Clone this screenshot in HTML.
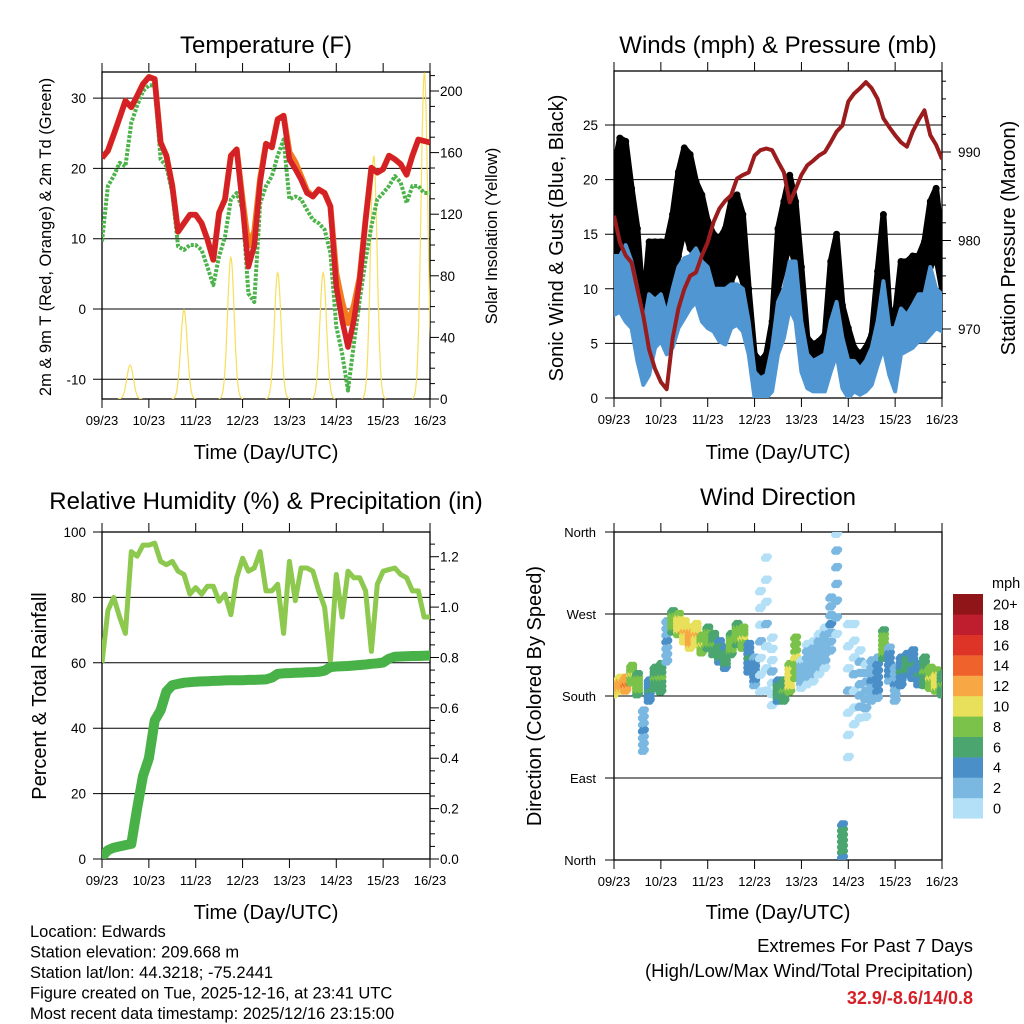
<!DOCTYPE html>
<html><head><meta charset="utf-8"><style>
html,body{margin:0;padding:0;background:#fff}
svg{display:block;font-family:"Liberation Sans",sans-serif}
</style></head><body>
<svg id="chart" width="1024" height="1024" viewBox="0 0 1024 1024" xmlns="http://www.w3.org/2000/svg">
<defs>
<clipPath id="cT"><rect x="102" y="72" width="328" height="327"/></clipPath>
<clipPath id="cW"><rect x="614" y="71" width="328" height="327"/></clipPath>
<clipPath id="cR"><rect x="102" y="532" width="328" height="327"/></clipPath>
<clipPath id="cD"><rect x="614" y="532" width="328" height="328"/></clipPath>
</defs>
<g id="root"></g>
</svg>
<script>
// ---------- data (1/8-day steps from 09/23 to 16/23) ----------
const dayLabels = ["09/23","10/23","11/23","12/23","13/23","14/23","15/23","16/23"];
const tempRed = [21.5,22.5,24.8,27.2,29.6,28.7,30.3,32,33,32.7,23.7,21.8,17.5,11,12.2,13.4,13.4,12.2,9.9,7,13.7,15.6,21.8,22.7,14.6,6,9,18,23.5,23,27,27.5,21.3,19.9,18.4,16.5,16,17,16.5,14.6,3.2,-1.6,-5.4,-1.6,4.1,12.7,20.1,19.4,19.9,21.8,21.3,20.6,19.1,21.8,24.1,23.9,23.7];
const tempOrange = [21.5,22.5,24.8,27.2,29.6,28.7,30.3,32,33,32.7,23.7,21.8,17.5,11,12.2,13.4,13.4,12.2,9.9,7,13.7,15.6,21.8,22.7,15.5,9,11,18.5,23.5,23,27,27.5,22.3,20.9,18.9,16.8,16,17,16.5,14.6,5,1,-2,0.5,4.5,12.7,20.1,19.4,19.9,21.8,21.3,20.6,19.1,21.8,24.1,23.9,23.7];
const dewGreen = [9.6,17.5,18.9,20.8,20.3,26.5,28.9,31,31.8,31.8,21.3,20.3,16.5,8.9,8.4,9.1,9.1,8.4,6,3.4,7.5,10.3,15.6,16.5,14.1,2.2,1,15,17.5,18.9,21.8,24.1,15.6,16,15.6,14.1,12.7,12.2,11.3,8,-2.5,-6.3,-11.6,-4.9,1.3,7,11.8,15.6,16.5,17.5,18.9,18,15.1,17.5,17.5,16.5,16.5];
const solarDay = [0.6,1.75,2.75,3.75,4.72,5.8,6.88];
const solarPeak = [22,58,92,82,82,158,212];
const sonicLo = [7.6,7.9,7,6.4,3.4,1.2,2.1,4.6,5.2,4,4.6,6.4,7.3,8.2,8.8,7,6.4,6.1,5.2,4.9,6.4,6.7,6.1,4,0,0,0,0.6,4,5.5,8.2,7,2.4,0.9,0.6,0.6,0.6,2.4,4,0.9,0,0.6,0.3,0.6,1.2,3,4.6,2.1,0.6,4,4.3,4.6,5.2,5.2,5.8,6.4,6.1];
const sonicHi = [13,13,14,12.5,10,6.4,9.5,9,9.5,7.6,10,12,12.8,13,13.7,12.5,12,10,10,10,10.4,10.4,10,7,2.4,1.8,2.1,4.6,8.8,10,12.5,12.5,7,4,3.4,3.7,4,7,8.8,5.5,3.4,3.4,2.7,3.4,4.6,7,10.7,6.4,6.4,8.2,7.6,8.5,9.5,9.5,12,10,9.5];
const gustLo = [12.5,14.3,13,11.6,7,4.6,8.2,8.8,7.6,7,10,13,15.5,13.7,13,12,10,9,9.5,8.8,10.7,12,10.7,5.5,1.5,1.2,1.5,2.7,10,12,14.3,12,6.4,2.4,2.1,2.1,2.7,7,8.8,4,2.1,2.1,1.8,2.1,3,7,10.7,4.6,4,7.6,7.6,8.2,8.2,9.5,12,13,10];
const gustHi = [21,23.8,23.5,19.2,15.5,8.2,14.3,14.3,14.3,14.3,16.8,20.7,22.9,22.3,19.8,18.6,16.2,15,14.6,15.5,18,18.6,16.8,10,4,3.4,4,7,15.5,18,20.4,18,12,5.5,4.9,5.2,5.8,12.5,15,8.5,6.4,4.6,4,4.6,5.8,11.6,16.8,8.2,7.6,12.5,12.5,13,13,14.3,18,19.2,14.3];
const pressure = [982.8,979.8,978.3,977.5,974.5,971.5,967.7,965.5,964,963.2,968.9,972.3,974.5,976,976.4,978.3,979.8,982.1,983.6,984.5,985.1,987,987.4,987.7,989.6,990.2,990.4,990.2,988.9,987.7,984.3,985.8,987.4,988.5,989,989.6,990,991.1,992.3,993,995.7,996.6,997.2,997.9,997.2,996,993.8,992.8,991.9,991.1,990.6,992.3,993.6,994.7,991.9,990.8,989.2];
const rhValues = [60,76,80,74,69,94,92.6,96,96,96.6,91,90,91,88,87,81,83,81,83.4,83.4,78.8,81,74.7,86,92,88,89,94,82,82,84,69,91,79,89,89,88,82,77,60.5,87,74,88,86,86,82,63.5,84,88,88.5,89,87,86,82,82,74,74];
const precip = [0.01,0.035,0.045,0.05,0.055,0.06,0.2,0.33,0.4,0.55,0.59,0.665,0.69,0.695,0.7,0.702,0.704,0.705,0.706,0.707,0.708,0.709,0.71,0.71,0.71,0.711,0.711,0.712,0.713,0.72,0.735,0.737,0.738,0.739,0.74,0.741,0.742,0.743,0.748,0.762,0.764,0.765,0.766,0.768,0.77,0.772,0.775,0.777,0.78,0.795,0.803,0.804,0.805,0.806,0.806,0.807,0.808];
const windDir = [188,192,192,203,192,141,185,199,199,239,261,258,250,243,247,236,243,236,228,221,236,247,243,221,206,239,258,206,185,185,199,221,203,214,217,225,232,258,302,20,185,203,192,185,196,199,236,214,192,206,214,214,203,206,199,196,192];
const dirSpread = [7,7,7,9,11,22,11,11,15,22,11,11,11,11,11,9,11,11,11,11,11,11,11,15,15,55,73,37,11,11,15,22,15,22,22,22,22,29,55,18,73,55,37,29,22,22,15,18,18,15,11,15,11,15,11,11,11];
const dirSpeed = [12,12,13,9,8,3,5,7,7,3,8,10,11,12,11,9,8,7,6,6,8,8,9,5,4,1,1,1,6,7,10,9,2,2,2,2,2,3,2,6,1,1,2,2,3,4,8,4,3,5,6,5,5,7,9,10,7];
const speedColors = ["#b3e0f7","#7ab8e2","#4a8fc7","#4aa66e","#7ac24a","#e8e05a","#f7a845","#f0622b","#dd3427","#be1e2d","#901518"];
const speedLabels = ["0","2","4","6","8","10","12","14","16","18","20+"];
const tempTicks = [-10,0,10,20,30];
const solarTicks = [0,40,80,120,160,200];
const windTicks = [0,5,10,15,20,25];
const presTicks = [970,980,990];
const rhTicks = [0,20,40,60,80,100];
const prTicks = [0,0.2,0.4,0.6,0.8,1.0,1.2];
const dirNames = ["North","East","South","West","North"];

// ---------- scales ----------
const NS="http://www.w3.org/2000/svg";
const root=document.getElementById('root');
const STEP=0.125;
const xL=d=>102+d*328/7, xRt=d=>614+d*328/7;
const yT=v=>309-v*7.03, yS=v=>399-v*1.54;
const yW=v=>398-v*10.92, yP=p=>152+(990-p)*8.85;
const yR=v=>859-v*3.27, yPr=v=>859-v*251.9;
const yD=v=>860-v*328/360;
function el(tag,attrs,parent,txt){const e=document.createElementNS(NS,tag);for(const k in attrs)e.setAttribute(k,attrs[k]);if(txt!==undefined)e.textContent=txt;(parent||root).appendChild(e);return e;}
function txt(x,y,s,size,anchor,parent,extra){const e=el('text',Object.assign({x:x,y:y,'font-size':size,'text-anchor':anchor||'middle',fill:'#000'},extra||{}),parent,s);return e;}
function pathFrom(arr,xf,yf){return arr.map((v,i)=>(i?'L':'M')+xf(i*STEP).toFixed(1)+' '+yf(v).toFixed(1)).join(' ');}
function band(lo,hi,xf,yf){let d=hi.map((v,i)=>(i?'L':'M')+xf(i*STEP).toFixed(1)+' '+yf(v).toFixed(1)).join(' ');for(let i=lo.length-1;i>=0;i--)d+=' L'+xf(i*STEP).toFixed(1)+' '+yf(lo[i]).toFixed(1);return d+'Z';}

function frame(x0,y0,w,h,name){
  const g=el('g',{});
  dayLabels.forEach((lab,i)=>{const x=x0+i*w/7;
    el('line',{x1:x,y1:y0-9,x2:x,y2:y0,stroke:'#000','stroke-width':1},g);
    el('line',{x1:x,y1:y0+h,x2:x,y2:y0+h+9,stroke:'#000','stroke-width':1},g);
    const t=txt(x,y0+h+26,lab,13,'middle',g);});
  el('rect',{x:x0,y:y0,width:w,height:h,fill:'none',stroke:'#000','stroke-width':1.3},g);
  return g;
}
function hgrid(g,y,x0,x1){el('line',{x1:x0-9,y1:y,x2:x1,y2:y,stroke:'#000','stroke-width':1},g);}

// ================= Temperature panel =================
(function(){
 const g=frame(102,72,328,327,'temperature');
 tempTicks.forEach(v=>{hgrid(g,yT(v),102,430);const t=txt(86,yT(v)+5,String(v),13.5,'end',g);});
 for(let v=0;v<=210;v+=10){const y=yS(v);if(y<72)continue;el('line',{x1:430,y1:y,x2:v%40===0?439:435,y2:y,stroke:'#000','stroke-width':1},g);}
 solarTicks.forEach(v=>{const t=txt(440,yS(v)+5,String(v),13.5,'start',g);});
 const p=el('g',{'clip-path':'url(#cT)'});
 solarDay.forEach((d,k)=>{let s='';for(let t=-0.26;t<=0.2601;t+=0.01){const v=solarPeak[k]*Math.exp(-Math.pow(t/0.1,2));s+=(s?'L':'M')+xL(d+t).toFixed(1)+' '+yS(v).toFixed(1)+' ';}
  const e=el('path',{d:s,fill:'none',stroke:'#f6df5c','stroke-width':1.2},p);});
 let e=el('path',{d:pathFrom(tempOrange,xL,yT),fill:'none',stroke:'#f47b20','stroke-width':6,'stroke-linejoin':'round'},p);
 
 e=el('path',{d:pathFrom(dewGreen,xL,yT),fill:'none',stroke:'#4bb34a','stroke-width':4,'stroke-dasharray':'3 1.5','stroke-linejoin':'round'},p);
 
 e=el('path',{d:pathFrom(tempRed,xL,yT),fill:'none',stroke:'#d42027','stroke-width':5.5,'stroke-linejoin':'round'},p);
 
 let t=txt(266,53,'Temperature (F)',24);
 t=txt(0,0,'2m & 9m T (Red, Orange) & 2m Td (Green)',16.5,'middle',null,{transform:'translate(51,237) rotate(-90)'});
 t=txt(0,0,'Solar Insolation (Yellow)',16.5,'middle',null,{transform:'translate(497,236) rotate(-90)'});
 t=txt(266,459,'Time (Day/UTC)',20);
})();

// ================= Winds panel =================
(function(){
 const g=frame(614,71,328,327,'winds');
 windTicks.forEach(v=>{hgrid(g,yW(v),614,942);const t=txt(598,yW(v)+5,String(v),13.5,'end',g);});
 for(let p=962;p<=1000;p+=2){const y=yP(p);if(y<71||y>398)continue;el('line',{x1:942,y1:y,x2:p%10===0?951:946,y2:y,stroke:'#000','stroke-width':1},g);}
 presTicks.forEach(v=>{const t=txt(958,yP(v)+5,String(v),13.5,'start',g);});
 const p=el('g',{'clip-path':'url(#cW)'});
 let e=el('path',{d:band(gustLo,gustHi,xRt,yW),fill:'#000',stroke:'#000','stroke-width':6,'stroke-linejoin':'round'},p);
 
 gustHi.forEach((v,i)=>{[v,gustLo[i],(v+gustLo[i])/2].forEach(w=>{const c=el('circle',{cx:xRt(i*STEP),cy:yW(w),r:3.5,fill:'#000'},p);});});
 e=el('path',{d:band(sonicLo,sonicHi,xRt,yW),fill:'#4f96d2',stroke:'#4f96d2','stroke-width':4,'stroke-linejoin':'round'},p);
 
 e=el('path',{d:pathFrom(pressure,xRt,yP),fill:'none',stroke:'#9b1c1c','stroke-width':4,'stroke-linejoin':'round'},p);
 
 let t=txt(778,53,'Winds (mph) & Pressure (mb)',24);
 t=txt(0,0,'Sonic Wind & Gust (Blue, Black)',20,'middle',null,{transform:'translate(563,238) rotate(-90)'});
 t=txt(0,0,'Station Pressure (Maroon)',20,'middle',null,{transform:'translate(1015,238) rotate(-90)'});
 t=txt(778,459,'Time (Day/UTC)',20);
})();

// ================= RH / Precip panel =================
(function(){
 const g=frame(102,532,328,327,'humidity');
 rhTicks.forEach(v=>{hgrid(g,yR(v),102,430);const t=txt(86,yR(v)+5,String(v),13.5,'end',g);});
 for(let v=0;v<=1.31;v+=0.05){const y=yPr(v);if(y<532)continue;const major=Math.abs(v*10-Math.round(v*10))<0.01&&Math.round(v*10)%2===0;el('line',{x1:430,y1:y,x2:major?439:435,y2:y,stroke:'#000','stroke-width':1},g);}
 prTicks.forEach(v=>{const t=txt(440,yPr(v)+5,v.toFixed(1),13.5,'start',g);});
 const p=el('g',{'clip-path':'url(#cR)'});
 let e=el('path',{d:pathFrom(rhValues,xL,yR),fill:'none',stroke:'#8dc94f','stroke-width':5,'stroke-linejoin':'round'},p);
 
 e=el('path',{d:pathFrom(precip,xL,yPr),fill:'none',stroke:'#48b248','stroke-width':10,'stroke-linejoin':'round','stroke-linecap':'round'},p);
 
 let t=txt(266,509,'Relative Humidity (%) & Precipitation (in)',24);
 t=txt(0,0,'Percent & Total Rainfall',20,'middle',null,{transform:'translate(46,696) rotate(-90)'});
 t=txt(266,919,'Time (Day/UTC)',20);
})();

// ================= Wind direction panel =================
(function(){
 const g=frame(614,532,328,328,'wind-direction');
 dirNames.forEach((n,i)=>{const y=yD(i*90);hgrid(g,y,614,942);const t=txt(596,y+5,n,13,'end',g);});
 const p=el('g',{'clip-path':'url(#cD)'});
 windDir.forEach((d,i)=>{
  for(let j=0;j<4;j++)for(let k=-3;k<=3;k++){
   const sp=Math.max(0,dirSpeed[i]+(k===0?1:(Math.abs(k)===3?-1:0)));
   const col=speedColors[Math.min(10,Math.floor(sp/2))];
   const c=el('circle',{cx:xRt(i*STEP+j*0.031-0.045),cy:yD(d+dirSpread[i]*k/3+(j%2)*2),r:3.4,fill:col},p);
   }});
 const cb=el('g',{});
 speedColors.forEach((c,i)=>{const y=594+(10-i)*20.4;const r=el('rect',{x:953,y:y,width:30,height:20.6,fill:c},cb);
  const t=txt(993,y+15.5,speedLabels[i],14.5,'start',cb);});
 let t=txt(992,588,'mph',14.5,'start',cb);
 t=txt(778,505,'Wind Direction',24);
 t=txt(0,0,'Direction (Colored By Speed)',20,'middle',null,{transform:'translate(541,696) rotate(-90)'});
 t=txt(778,919,'Time (Day/UTC)',20);
})();

// ================= footer text =================
(function(){
 const lines=["Location: Edwards","Station elevation: 209.668 m","Station lat/lon: 44.3218; -75.2441","Figure created on Tue, 2025-12-16, at 23:41 UTC","Most recent data timestamp: 2025/12/16 23:15:00"];
 const names=["location-text","elevation-text","latlon-text","created-text","timestamp-text"];
 lines.forEach((s,i)=>{const t=txt(30,937+i*20.5,s,16.5,'start');});
 let t=txt(973,952,'Extremes For Past 7 Days',18.5,'end');
 t=txt(973,977,'(High/Low/Max Wind/Total Precipitation)',18.5,'end');
 t=txt(973,1004,'32.9/-8.6/14/0.8',18,'end',null,{fill:'#d42027','font-weight':'bold'});
})();
</script>
</body></html>
